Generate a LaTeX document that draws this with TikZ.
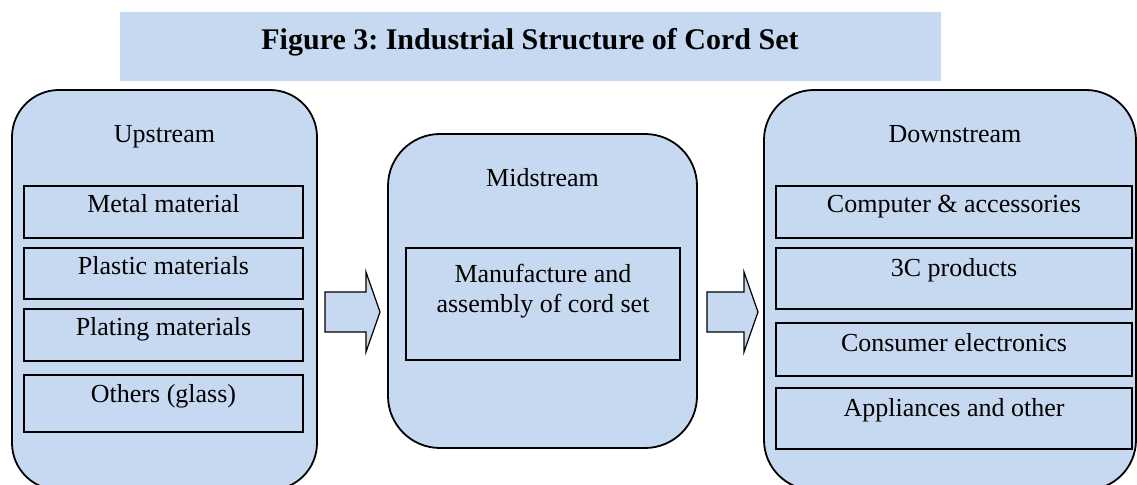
\documentclass[tikz,border=0pt]{standalone}
\usepackage{fontspec}
\setmainfont{Liberation Serif}
\usetikzlibrary{calc}
\definecolor{paleblue}{HTML}{C6D9F0}
\def\blockarrow(#1:#2:#3){\draw[fill=paleblue, line width=0.6pt] (#1, 292) -- (#2, 292) -- (#2, 272) -- (#3, 312) -- (#2, 352) -- (#2, 332) -- (#1, 332) -- cycle;}
\tikzset{
  panel/.style={draw, fill=paleblue, line width=0.9pt, rounded corners=23.5pt},
  itembox/.style={draw, fill=paleblue, line width=0.75pt},
  itemtext/.style={anchor=base, inner sep=0pt, font=\fontsize{13}{15}\selectfont}
}

\begin{document}
\begin{tikzpicture}[x=0.5pt, y=-0.5pt]
	\useasboundingbox (0, 0) rectangle (1137, 485);
	
	\fill[paleblue] (120, 12) rectangle (941, 81);
	\node[itemtext, font=\fontsize{15}{18}\selectfont\bfseries\frenchspacing] (title) at (530, 50) {Figure 3: Industrial Structure of Cord Set};
	
	% upstream
	\draw[panel] (12, 90) rectangle (317, 490);
	\node[itemtext] (up) at (164.5, 143) {Upstream};
	\draw[itembox] (24, 186) rectangle (303, 238);
	\node[itemtext] (metal) at (163.5, 213) {Metal material};
	\draw[itembox] (24, 248) rectangle (303, 299);
	\node[itemtext] (plastic) at (163.5, 275) {Plastic materials};
	\draw[itembox] (24, 309) rectangle (303, 361);
	\node[itemtext] (plating) at (163.5, 336) {Plating materials};
	\draw[itembox] (24, 375) rectangle (303, 432);
	\node[itemtext] (others) at (163.5, 403) {Others (glass)};
	
	\blockarrow(325:366:380)
	
	% midstream
	\draw[panel, rounded corners=26pt] (388, 134) rectangle (697, 448);
	\node[itemtext] (mid) at (542.5, 187) {Midstream};
	\draw[itembox] (406, 248) rectangle (680, 360);
	\node[itemtext] (make) at (543, 283) {Manufacture and};
	\node[itemtext] (assembly) at (543, 313) {assembly of cord set};
	
	\blockarrow(707:744:758)
	
	% downstream
	\draw[panel, rounded corners=25pt] (764, 90) rectangle (1136, 490);
	\node[itemtext] (down) at (955, 143) {Downstream};
	\draw[itembox] (776, 186) rectangle (1132, 238);
	\node[itemtext] (computer) at (954, 213) {Computer \& accessories};
	\draw[itembox] (776, 248) rectangle (1132, 309);
	\node[itemtext] (threec) at (954, 277) {3C products};
	\draw[itembox] (776, 323) rectangle (1132, 376);
	\node[itemtext] (consumer) at (954, 352) {Consumer electronics};
	\draw[itembox] (776, 388) rectangle (1132, 449);
	\node[itemtext] (appliance) at (954, 417) {Appliances and other};
\end{tikzpicture}
\end{document}
